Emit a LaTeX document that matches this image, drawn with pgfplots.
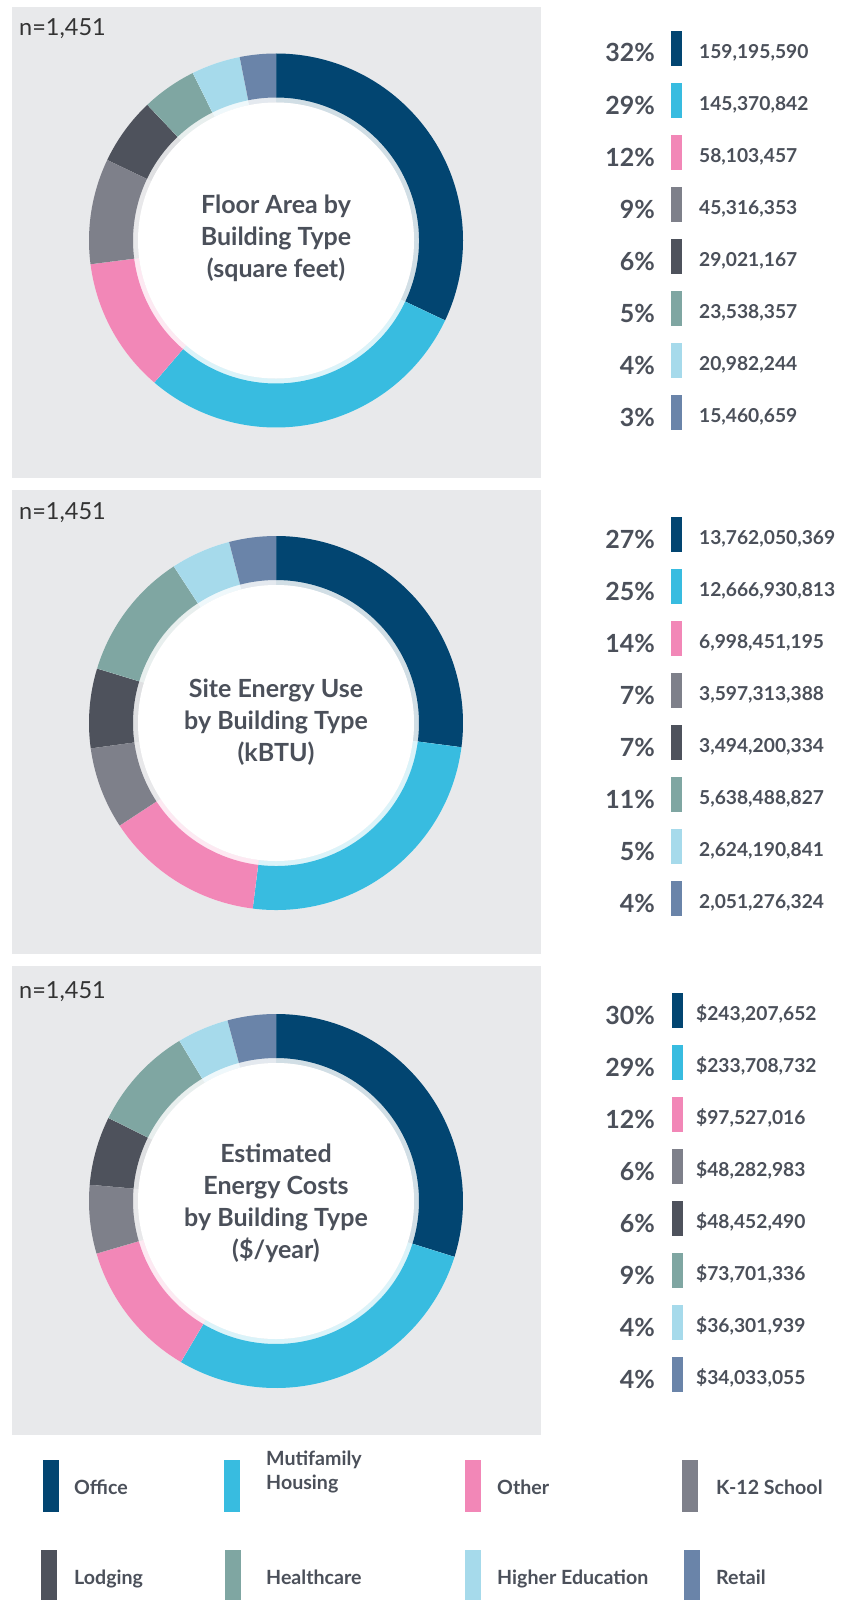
\documentclass[border=0pt]{standalone}
\usepackage{pgfplots}
\pgfplotsset{compat=1.18}
\usepackage{pgfplotstable}
\usepackage{fontspec}
\setmainfont{Lato}
\definecolor{col0}{HTML}{024571}
\definecolor{col1}{HTML}{38BCE0}
\definecolor{col2}{HTML}{F287B7}
\definecolor{col3}{HTML}{7E808A}
\definecolor{col4}{HTML}{4E525C}
\definecolor{col5}{HTML}{7FA6A2}
\definecolor{col6}{HTML}{A6DAEB}
\definecolor{col7}{HTML}{6A84A9}
\definecolor{panel}{HTML}{E8E9EB}
\definecolor{txt}{HTML}{4B505A}
\definecolor{ntxt}{HTML}{333333}

% Floor area (square feet)
\pgfplotstableread{
v pct lab
159195590 32 159,195,590
145370842 29 145,370,842
58103457 12 58,103,457
45316353 9 45,316,353
29021167 6 29,021,167
23538357 5 23,538,357
20982244 4 20,982,244
15460659 3 15,460,659
}\tabA
% Site energy use (kBTU)
\pgfplotstableread{
v pct lab
13762050369 27 13,762,050,369
12666930813 25 12,666,930,813
6998451195 14 6,998,451,195
3597313388 7 3,597,313,388
3494200334 7 3,494,200,334
5638488827 11 5,638,488,827
2624190841 5 2,624,190,841
2051276324 4 2,051,276,324
}\tabB
% Estimated energy costs ($/year)
\pgfplotstableread{
v pct lab
243207652 30 243,207,652
233708732 29 233,708,732
97527016 12 97,527,016
48282983 6 48,282,983
48452490 6 48,452,490
73701336 9 73,701,336
36301939 4 36,301,939
34033055 4 34,033,055
}\tabC

\newcommand\ringangles[2]{%
  \begingroup
  \pgfkeys{/pgf/fpu=true,/pgf/fpu/output format=fixed}%
  \def\rtot{0}%
  \pgfplotsforeachungrouped \i in {0,1,2,3,4,5,6,7}{%
    \pgfplotstablegetelem{\i}{v}\of{#1}%
    \pgfmathparse{\rtot+\pgfplotsretval}%
    \let\rtot\pgfmathresult
  }%
  \def\rcum{0}%
  \pgfplotsforeachungrouped \i in {0,1,2,3,4,5,6,7}{%
    \pgfplotstablegetelem{\i}{v}\of{#1}%
    \pgfmathparse{90-360*\rcum/\rtot}%
    \expandafter\xdef\csname #2a\i\endcsname{\pgfmathresult}%
    \pgfmathparse{\rcum+\pgfplotsretval}%
    \let\rcum\pgfmathresult
    \pgfmathparse{90-360*\rcum/\rtot}%
    \expandafter\xdef\csname #2b\i\endcsname{\pgfmathresult}%
  }%
  \endgroup
}
\ringangles{\tabA}{ra}%
\ringangles{\tabB}{rb}%
\ringangles{\tabC}{rc}%

% donut axis: #1 angle prefix, #2 x, #3 y
\newcommand\ring[3]{%
  \begin{axis}[hide axis, scale only axis, width=374pt, height=374pt,
    xmin=-1, xmax=1, ymin=-1, ymax=1, at={(#2pt,#3pt)}, anchor=center]
  \pgfplotsinvokeforeach{0,1,2,3,4,5,6,7}{%
    \fill[col##1!18!white] ([shift={(\csname #1a##1\endcsname:187pt)}]axis cs:0,0)
      arc[start angle=\csname #1a##1\endcsname, end angle=\csname #1b##1\endcsname, radius=187pt]
      -- ([shift={(\csname #1b##1\endcsname:138pt)}]axis cs:0,0)
      arc[start angle=\csname #1b##1\endcsname, end angle=\csname #1a##1\endcsname, radius=138pt] -- cycle;
    \fill[col##1] ([shift={(\csname #1a##1\endcsname:187pt)}]axis cs:0,0)
      arc[start angle=\csname #1a##1\endcsname, end angle=\csname #1b##1\endcsname, radius=187pt]
      -- ([shift={(\csname #1b##1\endcsname:143pt)}]axis cs:0,0)
      arc[start angle=\csname #1b##1\endcsname, end angle=\csname #1a##1\endcsname, radius=143pt] -- cycle;
  }
  \fill[white] (axis cs:0,0) circle[radius=138pt];
  \end{axis}%
}

% value list: #1 table, #2 top y, #3 swatch x, #4 value x, #5 prefix
\newcommand\valuelist[5]{%
  \pgfplotsforeachungrouped \i in {0,1,2,3,4,5,6,7}{%
    \pgfplotstablegetelem{\i}{pct}\of{#1}\let\pp\pgfplotsretval
    \pgfplotstablegetelem{\i}{lab}\of{#1}\let\ll\pgfplotsretval
    \pgfmathsetmacro\yy{-(#2+52*\i)}%
    \fill[col\i] (#3pt,\yy pt) rectangle ++(11pt,-35pt);
    \node[anchor=base east, inner sep=0pt, text=txt, font=\bfseries\fontsize{25}{30}\selectfont]
      at (655pt,\yy pt-31pt) {\pp\%};
    \node[anchor=base west, inner sep=0pt, text=txt, font=\bfseries\fontsize{19.2}{22}\selectfont]
      at (#4pt,\yy pt-27.5pt) {#5\ll};
  }%
}

\begin{document}
\begin{tikzpicture}
\useasboundingbox (0,0) rectangle (849pt,-1600pt);
\fill[white] (0,0) rectangle (849pt,-1600pt);
% panels
\fill[panel] (12pt,-7pt) rectangle (541pt,-478pt);
\fill[panel] (12pt,-490pt) rectangle (541pt,-954pt);
\fill[panel] (12pt,-966pt) rectangle (541pt,-1435pt);
\node[anchor=base west, inner sep=0pt, text=ntxt, font=\fontsize{23.5}{28}\selectfont] at (19pt,-36pt) {n=1,451};
\node[anchor=base west, inner sep=0pt, text=ntxt, font=\fontsize{23.5}{28}\selectfont] at (19pt,-519pt) {n=1,451};
\node[anchor=base west, inner sep=0pt, text=ntxt, font=\fontsize{23.5}{28}\selectfont] at (19pt,-998pt) {n=1,451};
% donuts
\ring{ra}{276}{-240.5}
\ring{rb}{276}{-723}
\ring{rc}{276}{-1201}
% centre titles
\node[align=center, text=txt, font=\bfseries\fontsize{25}{32}\selectfont] at (276pt,-238pt)
  {Floor Area by\\Building Type\\(square feet)};
\node[align=center, text=txt, font=\bfseries\fontsize{25}{32}\selectfont] at (276pt,-722pt)
  {Site Energy Use\\by Building Type\\(kBTU)};
\node[align=center, text=txt, font=\bfseries\fontsize{25}{32}\selectfont] at (276pt,-1203pt)
  {Estimated\\Energy Costs\\by Building Type\\(\$/year)};
% value lists
\valuelist{\tabA}{31}{671}{699}{}
\valuelist{\tabB}{517}{671}{699}{}
\valuelist{\tabC}{993}{672}{696}{\$}
% bottom legend
\fill[col0] (43pt,-1460pt) rectangle ++(16pt,-52pt);
\fill[col1] (224pt,-1460pt) rectangle ++(16pt,-52pt);
\fill[col2] (465pt,-1460pt) rectangle ++(16pt,-52pt);
\fill[col3] (682pt,-1460pt) rectangle ++(16pt,-52pt);
\fill[col4] (41pt,-1550pt) rectangle ++(16pt,-52pt);
\fill[col5] (225pt,-1550pt) rectangle ++(16pt,-52pt);
\fill[col6] (465pt,-1550pt) rectangle ++(16pt,-52pt);
\fill[col7] (684pt,-1550pt) rectangle ++(16pt,-52pt);
\begin{scope}[every node/.style={anchor=base west, inner sep=0pt, text=txt, font=\bfseries\fontsize{19.6}{23.5}\selectfont}]
\node at (74pt,-1494pt) {Office};
\node[align=left] at (266pt,-1489pt) {Mutifamily\\Housing};
\node at (497pt,-1494pt) {Other};
\node at (716pt,-1494pt) {K-12 School};
\node at (74pt,-1584pt) {Lodging};
\node at (266pt,-1584pt) {Healthcare};
\node at (497pt,-1584pt) {Higher Education};
\node at (716pt,-1584pt) {Retail};
\end{scope}
\end{tikzpicture}
\end{document}
